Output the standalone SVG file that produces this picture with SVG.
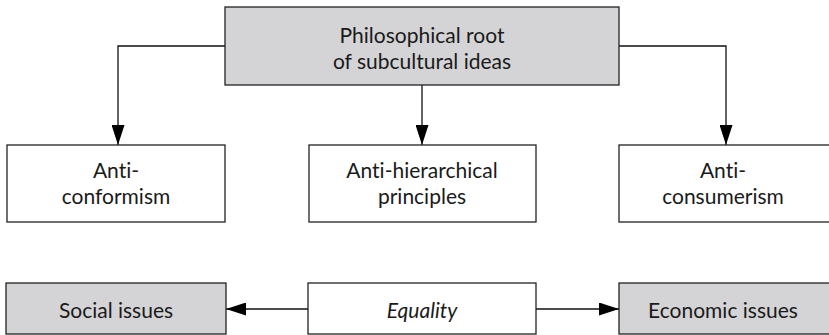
<svg xmlns="http://www.w3.org/2000/svg" width="829" height="335" viewBox="0 0 829 335">
<style>
.box{stroke:#222;stroke-width:1.3}
.grey{fill:#d4d4d6}
.white{fill:#fff}
text{font-family:Lato,"Liberation Sans",sans-serif;font-size:21px;fill:#1a1a1a;text-anchor:middle;font-variant-ligatures:none}
.conn{fill:none;stroke:#111;stroke-width:1.3}
</style>
<defs>
<marker id="ahb" viewBox="0 0 20 13" refX="20" refY="6.5" markerWidth="20" markerHeight="13" markerUnits="userSpaceOnUse" orient="auto"><path d="M0,0 L20,6.5 L0,13 Z" fill="#000"/></marker>
</defs>
<rect width="829" height="335" fill="#fff"/>
<g id="connectors">
<path class="conn" d="M225,46 H118 V145" marker-end="url(#ahb)"/>
<path class="conn" d="M422,85 V145" marker-end="url(#ahb)"/>
<path class="conn" d="M619,46 H726 V145" marker-end="url(#ahb)"/>
<path class="conn" d="M308,309 H226" marker-end="url(#ahb)"/>
<path class="conn" d="M536,309 H619" marker-end="url(#ahb)"/>
</g>
<g id="root">
<rect class="box grey" x="225" y="7" width="394" height="78"/>
<text x="422" y="43">Philosophical root</text>
<text x="422" y="69">of subcultural ideas</text>
</g>
<g id="anticonformism">
<rect class="box white" x="7" y="145" width="218" height="77"/>
<text x="116" y="178">Anti-</text>
<text x="116" y="204">conformism</text>
</g>
<g id="antihierarchical">
<rect class="box white" x="309" y="145" width="227" height="77"/>
<text x="422" y="178">Anti-hierarchical</text>
<text x="422" y="204">principles</text>
</g>
<g id="anticonsumerism">
<rect class="box white" x="619" y="145" width="215" height="77"/>
<text x="723" y="178">Anti-</text>
<text x="723" y="204">consumerism</text>
</g>
<g id="social">
<rect class="box grey" x="6" y="283" width="220" height="51"/>
<text x="116" y="318">Social issues</text>
</g>
<g id="equality">
<rect class="box white" x="308" y="283" width="228" height="51"/>
<text x="422" y="318" font-style="italic">Equality</text>
</g>
<g id="economic">
<rect class="box grey" x="619" y="283" width="215" height="51"/>
<text x="723" y="318">Economic issues</text>
</g>
</svg>
